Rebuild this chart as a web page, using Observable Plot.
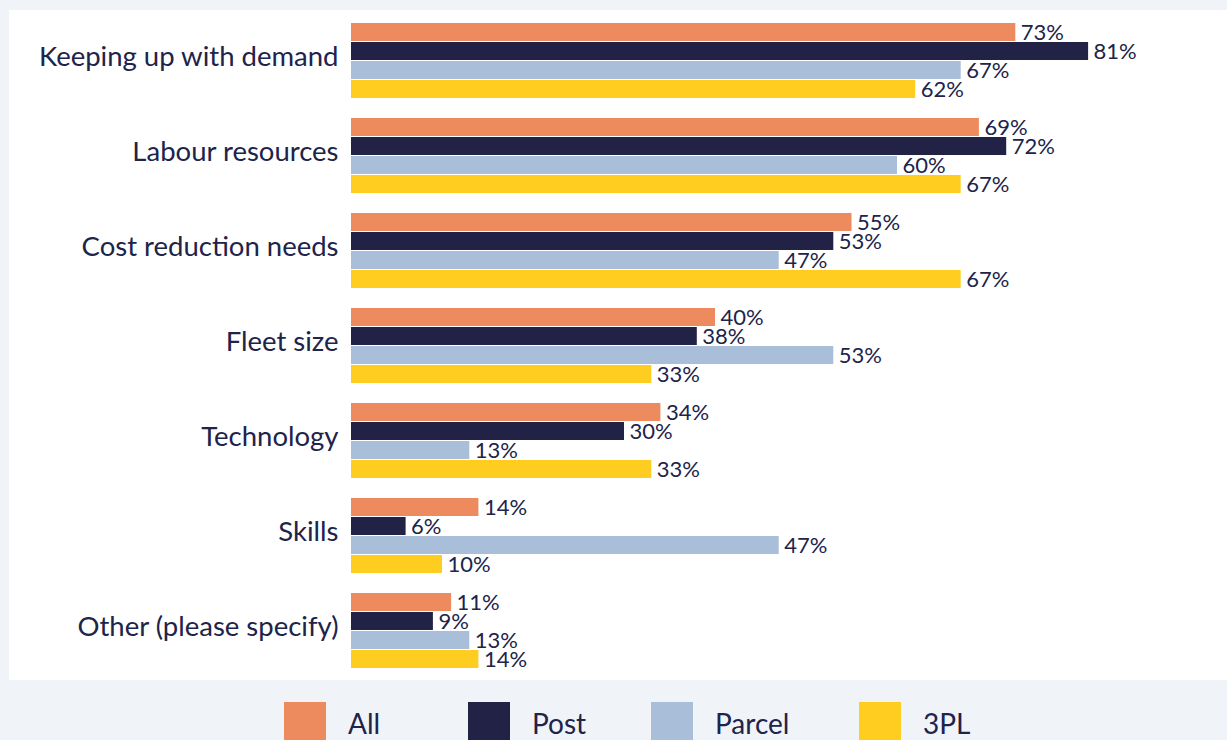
<!DOCTYPE html>
<html><head><meta charset="utf-8">
<script src="https://cdn.jsdelivr.net/npm/d3@7"></script>
<script src="https://cdn.jsdelivr.net/npm/@observablehq/plot@0.6"></script>
<style>
html,body{margin:0;padding:0;background:#f0f4f9;width:1227px;height:740px;overflow:hidden;font-family:Lato,"Open Sans",sans-serif;}
#panel{position:absolute;left:9px;top:10px;width:1218px;height:670px;background:#fff;}
#legend{position:absolute;left:284px;top:702px;display:flex;align-items:center;height:42px;}
.item{display:flex;align-items:center;}
.sw{width:42px;height:42px;margin-right:22px;}
.lab{font-size:28px;color:#20234a;}
</style></head><body>
<div id="panel"></div><div id="legend"></div>
<script>
const categories = ["Keeping up with demand","Labour resources","Cost reduction needs","Fleet size","Technology","Skills","Other (please specify)"];
const series = ["All","Post","Parcel","3PL"];
const allValues = [73,69,55,40,34,14,11];
const postValues = [81,72,53,38,30,6,9];
const parcelValues = [67,60,47,53,13,47,13];
const tplValues = [62,67,67,33,33,10,14];
const colors = ["#ee8b5e","#212245","#a9bfd9","#ffcd20"];

const valuesBySeries = [allValues, postValues, parcelValues, tplValues];
const data = [];
categories.forEach((c, i) => series.forEach((s, j) => data.push({category: c, series: s, value: valuesBySeries[j][i]})));

const chart = Plot.plot({
  width: 1218, height: 670,
  marginLeft: 342, marginRight: 57, marginTop: 13, marginBottom: 11,
  style: {background: "transparent", fontFamily: "Lato, 'Open Sans', sans-serif", color: "#20234a"},
  x: {domain: [0, 90], axis: null},
  y: {domain: series, paddingInner: 0.05, paddingOuter: 0, axis: null},
  fy: {domain: categories, paddingInner: 0.2, paddingOuter: 0},
  color: {domain: series, range: colors},
  marks: [
    Plot.barX(data, {x: "value", y: "series", fy: "category", fill: "series"}),
    Plot.text(data, {x: "value", y: "series", fy: "category", text: d => d.value + "%", dx: 5, textAnchor: "start", fontSize: 22, fill: "#20234a"}),
    Plot.axisFy({anchor: "left", tickSize: 0, tickPadding: 13, fontSize: 27.5, label: null, dy: -4, fill: "#20234a"})
  ]
});
document.getElementById("panel").appendChild(chart);

const itemWidths = [184, 183, 208, null];
const legend = document.getElementById("legend");
series.forEach((s, i) => {
  const it = document.createElement("div");
  it.className = "item";
  if (itemWidths[i]) it.style.width = itemWidths[i] + "px";
  const sw = document.createElement("div");
  sw.className = "sw"; sw.style.background = colors[i];
  const lab = document.createElement("span");
  lab.className = "lab"; lab.textContent = s;
  it.appendChild(sw); it.appendChild(lab);
  legend.appendChild(it);
});
</script>
</body></html>
